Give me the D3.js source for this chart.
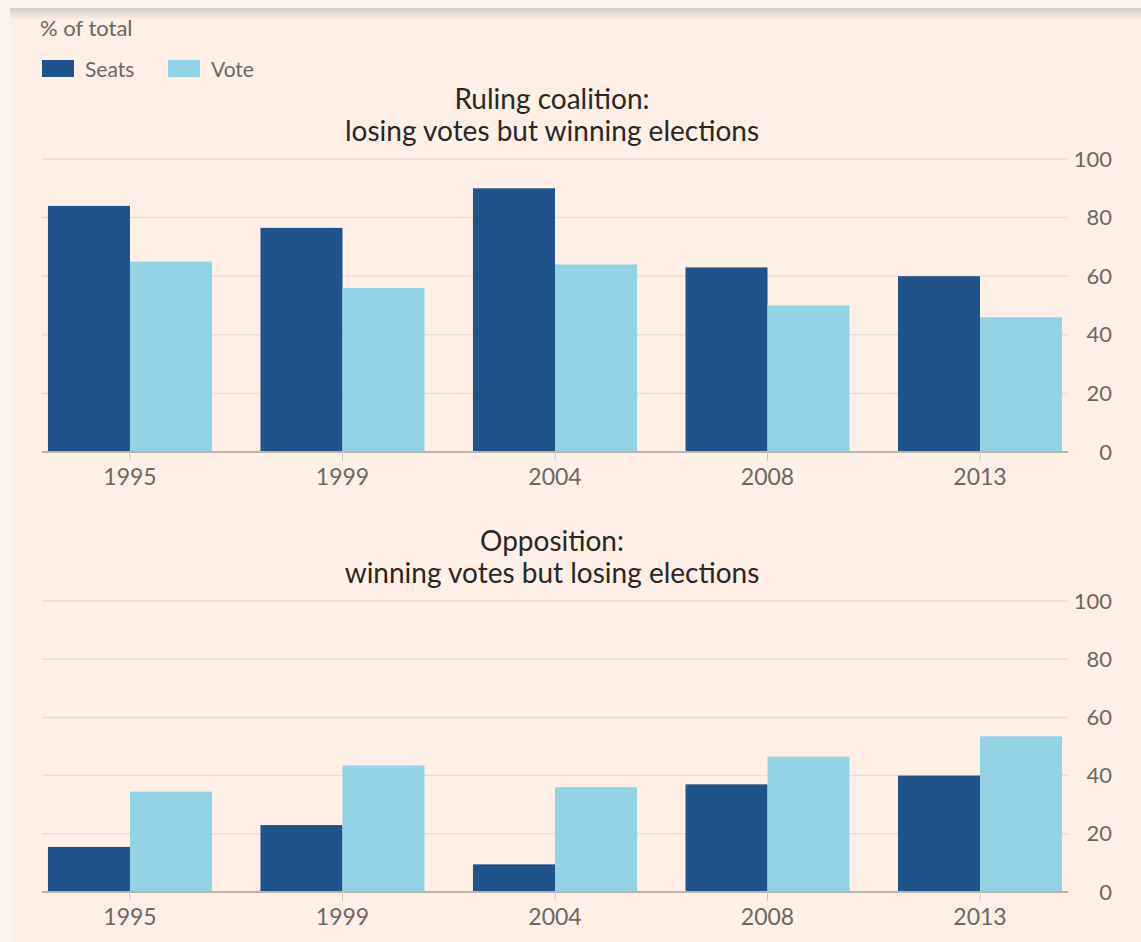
<!DOCTYPE html>
<html>
<head>
<meta charset="utf-8">
<script src="https://cdn.jsdelivr.net/npm/d3@7"></script>
<style>
  body { margin: 0; background: #fef0e6; }
  svg { display: block; }
  text { font-family: Lato, "Open Sans", sans-serif; }
</style>
</head>
<body>
<svg id="chart" width="1141" height="942"></svg>
<script>
// data
const years = ["1995", "1999", "2004", "2008", "2013"];
const series = ["Seats", "Vote"];
const rulingSeats = [84, 76.5, 90, 63, 60];
const rulingVote = [65, 56, 64, 50, 46];
const oppSeats = [15.5, 23, 9.5, 37, 40];
const oppVote = [34.5, 43.5, 36, 46.5, 53.5];
const yTicks = [0, 20, 40, 60, 80, 100];

const colors = { Seats: "#1f538a", Vote: "#94d3e6" };

const svg = d3.select('#chart');

svg.append('rect')
  .attr('width', 1141).attr('height', 942)
  .attr('fill', '#fef0e6');

// screenshot-ish top edge with a soft shadow
const defs = svg.append('defs');
const grad = defs.append('linearGradient')
  .attr('id', 'shade').attr('x1', 0).attr('x2', 0).attr('y1', 0).attr('y2', 1);
grad.append('stop').attr('offset', '0%').attr('stop-color', '#d8cbc0');
grad.append('stop').attr('offset', '100%').attr('stop-color', '#fef0e6');
svg.append('rect').attr('x', 0).attr('y', 0).attr('width', 1141).attr('height', 8).attr('fill', '#fdf4ee');
svg.append('rect').attr('x', 0).attr('y', 8).attr('width', 1141).attr('height', 12).attr('fill', 'url(#shade)');
svg.append('rect').attr('x', 0).attr('y', 0).attr('width', 10).attr('height', 942).attr('fill', '#fdf4ee');

// header + legend
svg.append('text')
  .attr('x', 40).attr('y', 36)
  .attr('font-size', 22).attr('fill', '#6e6762')
  .text('% of total');

const legend = svg.append('g');
const legendX = [42, 168];
series.forEach((s, i) => {
  legend.append('rect')
    .attr('x', legendX[i]).attr('y', 60)
    .attr('width', 32).attr('height', 17)
    .attr('fill', colors[s]);
  legend.append('text')
    .attr('x', legendX[i] + 43).attr('y', 77)
    .attr('font-size', 21).attr('fill', '#6e6762')
    .text(s);
});

const x = d3.scaleBand()
  .domain(years)
  .range([42, 1068])
  .paddingInner(0.228)
  .paddingOuter(0.028);

const x1 = d3.scaleBand()
  .domain(series)
  .range([0, x.bandwidth()]);

function panel(title, seats, vote, top, bottom) {
  const g = svg.append('g');
  const y = d3.scaleLinear().domain([0, 100]).range([bottom, top]);

  title.forEach((line, i) => {
    g.append('text')
      .attr('x', 552).attr('y', top - 50 + i * 32)
      .attr('text-anchor', 'middle')
      .attr('font-size', 28).attr('fill', '#2a2725')
      .text(line);
  });

  // gridlines
  g.append('g')
    .selectAll('line')
    .data(yTicks.filter(d => d > 0))
    .join('line')
      .attr('x1', 42).attr('x2', 1068)
      .attr('y1', d => y(d)).attr('y2', d => y(d))
      .attr('stroke', '#e8ddd4').attr('stroke-width', 1.5);

  const rows = years.map((yr, i) => ({ year: yr, Seats: seats[i], Vote: vote[i] }));

  g.append('g')
    .selectAll('g')
    .data(rows)
    .join('g')
      .attr('transform', d => `translate(${x(d.year)},0)`)
    .selectAll('rect')
    .data(d => series.map(s => ({ key: s, value: d[s] })))
    .join('rect')
      .attr('x', d => x1(d.key))
      .attr('width', x1.bandwidth())
      .attr('y', d => y(d.value))
      .attr('height', d => y(0) - y(d.value))
      .attr('fill', d => colors[d.key]);

  // x axis
  const xAxis = g.append('g')
    .attr('transform', `translate(0,${y(0)})`)
    .call(d3.axisBottom(x).tickSize(9).tickPadding(8).tickSizeOuter(0));
  xAxis.select('.domain')
    .attr('d', `M42,0H1068`)
    .attr('stroke', '#bdb3aa').attr('stroke-width', 2);
  xAxis.selectAll('.tick line').attr('stroke', '#cfc5bc');
  xAxis.selectAll('.tick text')
    .attr('font-size', 23).attr('fill', '#6e6762');

  // y axis on the right
  const yAxis = g.append('g')
    .attr('transform', 'translate(1068,0)')
    .call(d3.axisRight(y).tickValues(yTicks).tickSize(0));
  yAxis.select('.domain').remove();
  yAxis.selectAll('.tick text')
    .attr('x', 44)
    .attr('text-anchor', 'end')
    .attr('font-size', 22).attr('fill', '#6e6762');
}

panel(['Ruling coalition:', 'losing votes but winning elections'], rulingSeats, rulingVote, 159, 452);
panel(['Opposition:', 'winning votes but losing elections'], oppSeats, oppVote, 601, 892);
</script>
</body>
</html>
